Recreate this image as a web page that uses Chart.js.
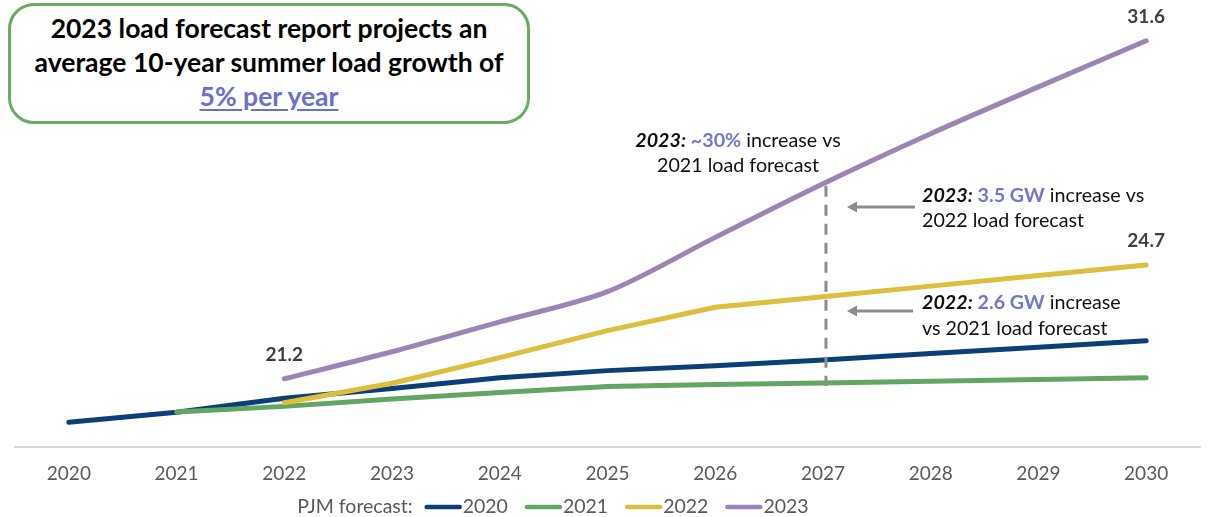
<!DOCTYPE html>
<html>
<head>
<meta charset="utf-8">
<script src="https://cdn.jsdelivr.net/npm/chart.js@4.4.1/dist/chart.umd.min.js"></script>
<style>
  html, body { margin: 0; padding: 0; background: #fff; }
  #wrap { position: relative; width: 1208px; height: 517px; overflow: hidden; }
  #c { position: absolute; left: 0; top: 0; }
  #titleBox {
    position: absolute; left: 8px; top: 3px; width: 522px; height: 121px;
    box-sizing: border-box; border: 3px solid #6aab62; border-radius: 26px;
    background: #fff; text-align: center;
    font-family: Lato, "Open Sans", sans-serif; font-weight: bold; font-size: 26.5px;
    line-height: 34px; color: #000; padding-top: 5px;
  }
  #titleBox .hl { color: #6b70c8; text-decoration: underline; text-underline-offset: 3px; }
</style>
</head>
<body>
<div id="wrap">
  <canvas id="c" width="1208" height="517"></canvas>
  <div id="titleBox">2023 load forecast report projects an<br>average 10-year summer load growth of<br><span class="hl">5% per year</span></div>
</div>
<script>
// ---- data ----
const years = ['2020','2021','2022','2023','2024','2025','2026','2027','2028','2029','2030'];
const forecast2020 = [19.86, 20.17, 20.6, 20.9, 21.23, 21.45, 21.6, 21.78, 21.98, 22.17, 22.37];
const forecast2021 = [null, 20.18, 20.35, 20.58, 20.78, 20.96, 21.02, 21.07, 21.12, 21.18, 21.23];
const forecast2022 = [null, null, 20.46, 21.06, 21.85, 22.68, 23.4, 23.72, 24.05, 24.38, 24.7];
const forecast2023 = [null, null, 21.2, 22.03, 22.95, 23.88, 25.55, 27.2, 28.74, 30.18, 31.6];
const seriesNames = ['2020','2021','2022','2023'];
const seriesColors = ['#0b3f77', '#62a662', '#dcbf3c', '#9c85b5'];
// labelled points: [series index, point index]
const labelledPoints = [[3, 2], [3, 10], [2, 10]];
const markerYear = '2027';

const FONT = 'Lato, "Open Sans", sans-serif';
const GRAY = '#595959';

const allSeries = [forecast2020, forecast2021, forecast2022, forecast2023];
const datasets = allSeries.map((d, i) => ({
  label: seriesNames[i],
  data: d,
  borderColor: seriesColors[i],
  backgroundColor: seriesColors[i],
  borderWidth: 5,
  borderCapStyle: 'round',
  borderJoinStyle: 'round',
  pointRadius: 0,
  pointHoverRadius: 0,
  tension: i === 3 ? 0.3 : 0,
  spanGaps: false,
  clip: false,
  order: 4 - i
}));

function drawRich(ctx, segs, x, y, align) {
  let total = 0;
  segs.forEach(s => { ctx.font = s.font; s.w = ctx.measureText(s.text).width; total += s.w; });
  let cx = align === 'center' ? x - total / 2 : x;
  ctx.textAlign = 'left';
  ctx.textBaseline = 'middle';
  segs.forEach(s => { ctx.font = s.font; ctx.fillStyle = s.color; ctx.fillText(s.text, cx, y); cx += s.w; });
}

function arrow(ctx, x1, x2, y) {
  ctx.save();
  ctx.strokeStyle = '#8c8c8c';
  ctx.fillStyle = '#8c8c8c';
  ctx.lineWidth = 3;
  ctx.beginPath();
  ctx.moveTo(x1, y);
  ctx.lineTo(x2 + 8, y);
  ctx.stroke();
  ctx.beginPath();
  ctx.moveTo(x2, y);
  ctx.lineTo(x2 + 10, y - 5.5);
  ctx.lineTo(x2 + 10, y + 5.5);
  ctx.closePath();
  ctx.fill();
  ctx.restore();
}

const annotationPlugin = {
  id: 'annot',
  afterDatasetsDraw(chart) {
    const ctx = chart.ctx;
    const xs = chart.scales.x;
    const idx = years.indexOf(markerYear);
    const top = chart.getDatasetMeta(3).data[idx];
    const bot = chart.getDatasetMeta(1).data[idx];
    // dashed marker line
    ctx.save();
    ctx.strokeStyle = '#8c8c8c';
    ctx.lineWidth = 3;
    ctx.setLineDash([11, 8]);
    ctx.beginPath();
    ctx.moveTo(xs.getPixelForValue(idx) + 3, top.y + 2);
    ctx.lineTo(xs.getPixelForValue(idx) + 3, bot.y + 3);
    ctx.stroke();
    ctx.restore();

    arrow(ctx, 915, 847, 207);
    arrow(ctx, 913, 847, 311);

    const sz = '19.7px ';
    const reg = sz + FONT;
    const bi = 'italic bold ' + sz + FONT;
    const b = 'bold ' + sz + FONT;
    const blk = '#111';
    const blu = '#7177cc';
    drawRich(ctx, [{text: '2023:', font: bi, color: blk}, {text: ' ~30%', font: b, color: blu}, {text: ' increase vs', font: reg, color: blk}], 738, 141, 'center');
    drawRich(ctx, [{text: '2021 load forecast', font: reg, color: blk}], 738, 166, 'center');
    drawRich(ctx, [{text: '2023:', font: bi, color: blk}, {text: ' 3.5 GW', font: b, color: blu}, {text: ' increase vs', font: reg, color: blk}], 922, 196, 'left');
    drawRich(ctx, [{text: '2022 load forecast', font: reg, color: blk}], 922, 221, 'left');
    drawRich(ctx, [{text: '2022:', font: bi, color: blk}, {text: ' 2.6 GW', font: b, color: blu}, {text: ' increase', font: reg, color: blk}], 922, 303, 'left');
    drawRich(ctx, [{text: 'vs 2021 load forecast', font: reg, color: blk}], 922, 329, 'left');

    // value labels
    ctx.save();
    ctx.font = 'bold 19px ' + FONT;
    ctx.fillStyle = '#404040';
    ctx.textAlign = 'center';
    ctx.textBaseline = 'middle';
    labelledPoints.forEach(([s, p]) => {
      const pt = chart.getDatasetMeta(s).data[p];
      ctx.fillText(allSeries[s][p].toFixed(1), pt.x, pt.y - 24);
    });
    ctx.restore();

    // legend
    ctx.save();
    ctx.textBaseline = 'middle';
    ctx.textAlign = 'left';
    ctx.font = '19.5px ' + FONT;
    const y = 507;
    const prefix = 'PJM forecast:';
    const prefW = ctx.measureText(prefix).width;
    const lineLen = 37, gapAfterLine = 1, gapItem = 17, gapPref = 12;
    let total = prefW + gapPref;
    seriesNames.forEach((n, i) => { total += lineLen + gapAfterLine + ctx.measureText(n).width + (i < seriesNames.length - 1 ? gapItem : 0); });
    let x = 553 - total / 2;
    ctx.fillStyle = GRAY;
    ctx.fillText(prefix, x, y);
    x += prefW + gapPref;
    seriesNames.forEach((n, i) => {
      ctx.strokeStyle = seriesColors[i];
      ctx.lineWidth = 4.5;
      ctx.lineCap = 'round';
      ctx.beginPath();
      ctx.moveTo(x + 2, y);
      ctx.lineTo(x + lineLen - 2, y);
      ctx.stroke();
      x += lineLen + gapAfterLine;
      ctx.fillStyle = GRAY;
      ctx.fillText(n, x, y);
      x += ctx.measureText(n).width + gapItem;
    });
    ctx.restore();
  }
};

new Chart(document.getElementById('c'), {
  type: 'line',
  data: { labels: years, datasets },
  options: {
    responsive: false,
    animation: false,
    devicePixelRatio: 1,
    layout: { padding: { left: 15, right: 8, top: 11.5, bottom: 0 } },
    plugins: { legend: { display: false }, tooltip: { enabled: false } },
    scales: {
      x: {
        offset: true,
        grid: { display: false, drawTicks: false },
        border: { display: true, color: '#d9d9d9', width: 2 },
        ticks: { color: GRAY, font: { family: FONT, size: 19 }, padding: 15.5, maxRotation: 0, autoSkip: false },
        afterFit(scale) { scale.height = 70; }
      },
      y: { display: false, min: 19.1, max: 32.5 }
    }
  },
  plugins: [annotationPlugin]
});
</script>
</body>
</html>
